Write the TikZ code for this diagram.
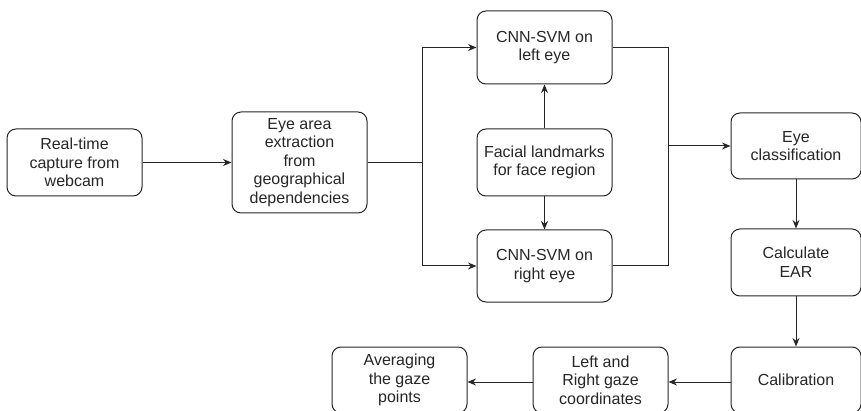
\documentclass[tikz,border=0pt]{standalone}
\usepackage{fontspec}
\setmainfont{Liberation Sans}
\usetikzlibrary{arrows.meta}
\begin{document}
\begin{tikzpicture}[x=1pt,y=-1pt,
  box/.style={draw=black!85, line width=1pt, rounded corners=9pt,
    minimum width=135pt, align=center, inner sep=0pt, text=black!85,
    font=\fontsize{16}{18.6}\selectfont},
  link/.style={draw=black!85, line width=1pt},
  arr/.style={link, -{Stealth[length=8.5pt,width=7pt]}}]
\useasboundingbox (0,0) rectangle (861,411);

% first column
\node[box, minimum height=67pt] (cap) at (74.5,162.5) {Real-time\\capture from\\webcam};
\node[box, minimum height=101pt] (ext) at (299.5,162.5) {Eye area\\extraction\\from\\geographical\\dependencies};

% per-eye classifiers and landmarks
\node[box, minimum height=73pt] (left) at (544.5,47.5) {CNN-SVM on\\left eye};
\node[box, minimum height=67pt] (land) at (544.5,162.5) {Facial landmarks\\for face region};
\node[box, minimum height=72pt] (right) at (544.5,266) {CNN-SVM on\\right eye};

% right column
\node[box, minimum width=130pt, minimum height=66pt] (cls) at (796,146) {Eye\\classification};
\node[box, minimum width=130pt, minimum height=67pt] (ear) at (796,262.5) {Calculate\\EAR};
\node[box, minimum width=130pt, minimum height=66pt] (cal) at (796,380) {Calibration};

% bottom row
\node[box, minimum height=66pt] (gaze) at (600.5,380) {Left and\\Right gaze\\coordinates};
\node[box, minimum height=66pt] (avg) at (399.5,380) {Averaging\\the gaze\\points};

% junctions
\coordinate (split) at (422,162.5);
\coordinate (merge) at (668,146);

% connectors
\draw[arr] (cap) -- (ext);
\draw[link] (ext.east) -- (split);
\draw[arr] (split) |- (left.west);
\draw[arr] (split) |- (right.west);
\draw[arr] (land) -- (left);
\draw[arr] (land) -- (right);
\draw[link] (left.east) -| (merge);
\draw[link] (right.east) -| (merge);
\draw[arr] (merge) -- (merge -| cls.west);
\draw[arr] (cls) -- (ear);
\draw[arr] (ear) -- (cal);
\draw[arr] (cal.west |- 0,382) -- (gaze.east |- 0,382);
\draw[arr] (gaze.west |- 0,382) -- (avg.east |- 0,382);
\end{tikzpicture}
\end{document}
